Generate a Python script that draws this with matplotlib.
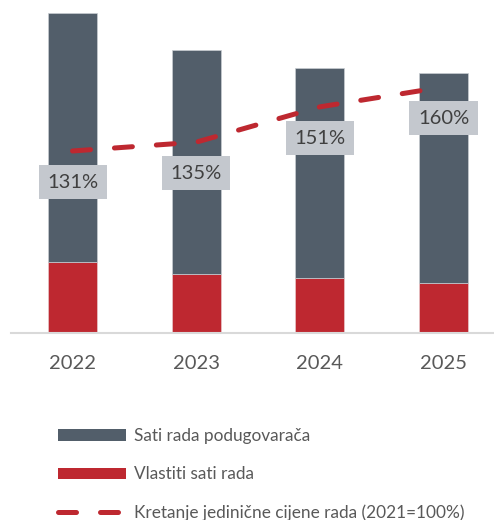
import matplotlib.pyplot as plt
from matplotlib.patches import Patch
from matplotlib.lines import Line2D

godine = ['2022', '2023', '2024', '2025']
vlastiti = [71, 59, 55, 50]
podugovaraci = [249, 224, 210, 210]
cijena = [131, 135, 151, 160]

siva = '#525e6a'
crvena = '#be2830'

plt.rcParams['font.family'] = ['Lato', 'DejaVu Sans']

fig = plt.figure(figsize=(4.94, 5.2), dpi=100)
# osi: lijevo 10.7 px, dno 333 px od vrha, vrh 10 px
ax = fig.add_axes([10.7 / 494, (520 - 333) / 520, 494.7 / 494, 323 / 520])

x = range(len(godine))
ax.bar(x, vlastiti, width=0.396, color=crvena, edgecolor='#e8c8ca', linewidth=0.5)
ax.bar(x, podugovaraci, bottom=vlastiti, width=0.396, color=siva, edgecolor='#c9cdd2', linewidth=0.5)

ax.set_xlim(-0.5, 3.5)
ax.set_ylim(0, 323)
ax.set_yticks([])
for s in ['top', 'right', 'left']:
    ax.spines[s].set_visible(False)
ax.spines['bottom'].set_color('#d9d9d9')
ax.spines['bottom'].set_linewidth(1.5)
ax.set_xticks(list(x))
ax.set_xticklabels(godine, fontsize=14.5, color='#595959')
ax.tick_params(axis='x', length=0, pad=16)

ax2 = ax.twinx()
ax2.set_ylim(48.5, 194.9)
ax2.set_axis_off()
ax2.plot(list(x), cijena, color=crvena, linewidth=3.6, dashes=(3.6, 4.8),
         dash_capstyle='round', solid_capstyle='round')

for i, v in enumerate(cijena):
    ax2.annotate(f'{v}%', (i, v), xytext=(0, -22.5), textcoords='offset points',
                 ha='center', va='center', fontsize=14.5, color='#404040',
                 bbox=dict(boxstyle='square,pad=0.42', facecolor='#c4c8ce', edgecolor='none'))

handles = [
    Patch(facecolor=siva, edgecolor='none'),
    Patch(facecolor=crvena, edgecolor='none'),
    Line2D([0], [0], color=crvena, linewidth=3.6, dashes=(3.6, 4.8), dash_capstyle='round'),
]
labels = ['Sati rada podugovarača', 'Vlastiti sati rada',
          'Kretanje jedinične cijene rada (2021=100%)']
fig.legend(handles, labels, loc='upper left', bbox_to_anchor=(58 / 494, 1 - 428 / 520),
           frameon=False, fontsize=12.4, handlelength=3.95, handleheight=0.65,
           handletextpad=0.45, labelspacing=1.3, borderpad=0, borderaxespad=0,
           labelcolor='#595959')

fig.savefig('out.png', dpi=100)
